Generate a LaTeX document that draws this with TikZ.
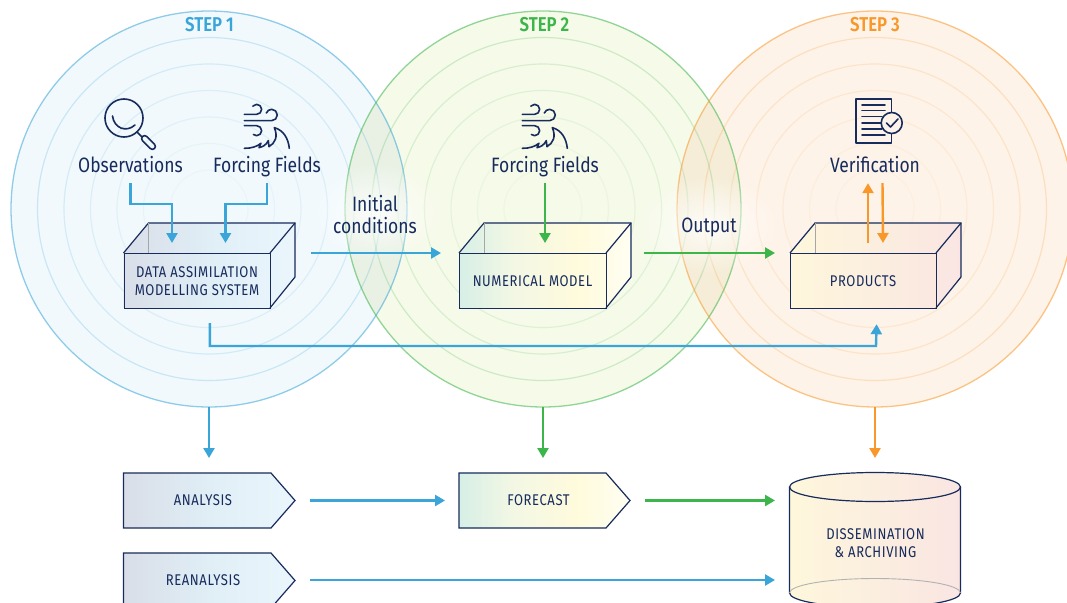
\documentclass[tikz,border=0pt]{standalone}
\usepackage{fontspec}
\setmainfont{Fira Sans}[FakeStretch=0.84]
\newfontfamily\stepfont{Fira Sans SemiBold}[FakeStretch=0.84]
\newfontfamily\boxfont{Fira Sans}[FakeStretch=0.84,LetterSpace=3.8]
\usetikzlibrary{arrows.meta,calc,fadings,shapes.geometric}
\definecolor{navy}{HTML}{172B5C}
\definecolor{cblue}{HTML}{3AA5D8}
\definecolor{cgreen}{HTML}{3CB54A}
\definecolor{corange}{HTML}{F9982A}
\definecolor{gAa}{HTML}{D9DEE8}\definecolor{gAb}{HTML}{E0EEF6}\definecolor{gAc}{HTML}{EAF6FC}
\definecolor{gBa}{HTML}{D6EFE6}\definecolor{gBb}{HTML}{F2F7E4}\definecolor{gBc}{HTML}{FFFBDC}\definecolor{gBd}{HTML}{FFFEF2}
\definecolor{gCa}{HTML}{FFF7DC}\definecolor{gCb}{HTML}{FBEEDF}\definecolor{gCc}{HTML}{FAE5E2}
\definecolor{bgO}{HTML}{FEF3E8}
\pgfdeclarehorizontalshading{gradA}{100bp}{color(0bp)=(gAa);color(25bp)=(gAa);color(50bp)=(gAb);color(75bp)=(gAc);color(100bp)=(gAc)}
\pgfdeclarehorizontalshading{gradB}{100bp}{color(0bp)=(gBa);color(25bp)=(gBa);color(40bp)=(gBb);color(60bp)=(gBc);color(75bp)=(gBd);color(100bp)=(gBd)}
\pgfdeclarehorizontalshading{gradC}{100bp}{color(0bp)=(gCa);color(25bp)=(gCa);color(50bp)=(gCb);color(75bp)=(gCc);color(100bp)=(gCc)}
\tikzfading[name=glowfade,inner color=transparent!15,outer color=transparent!100]
\tikzset{
  lbl/.style={text=navy,font=\fontsize{20.8}{22}\selectfont,align=center,inner sep=0pt},
  baselbl/.style={lbl,anchor=base},
  boxlbl/.style={text=navy,font=\boxfont\fontsize{15.5}{18}\selectfont,align=center,inner sep=0pt},
  steplbl/.style={font=\stepfont\fontsize{20}{22}\selectfont,inner sep=0pt},
  frontface/.style={draw=navy,line width=1.2pt,minimum width=147pt,minimum height=55pt,inner sep=0pt},
  wire/.style={line width=1.2pt,draw=navy},
  icon/.style={line width=1.6pt,draw=navy,line cap=round,line join=round},
  arr/.style={line width=2.4pt,-{Triangle[width=11pt,length=10pt]}},
  arrb/.style={arr,draw=cblue,color=cblue},
  arrg/.style={arr,draw=cgreen,color=cgreen},
  arro/.style={arr,draw=corange,color=corange},
}
\newcommand{\windicon}[2]{%
\begin{scope}[shift={(#1,#2)},x=0.3333pt,y=-0.3333pt,icon]
  \draw (553,103) -- (590,103) arc[start angle=-90,end angle=140,radius=5pt];
  \draw (553,122) -- (635,122) arc[start angle=-90,end angle=160,radius=5.67pt];
  \draw (553,137) -- (590,137) arc[start angle=90,end angle=-130,radius=5pt];
  \draw (553,205) .. controls (575,205) and (590,200) .. (603,190) -- (597,203) .. controls (610,200) and (618,195) .. (625,182) -- (627,200) .. controls (645,190) and (655,170) .. (643,143) .. controls (670,150) and (685,175) .. (688,205);
\end{scope}}
\newcommand{\rings}[3]{%
  \foreach \r/\o in {171.5/.22,145/.16,118.5/.12,92/.09,65.5/.06,39/.04}{\draw[#3,opacity=\o,line width=1.2pt] (#1,#2) circle[radius=\r pt];}
  \draw[#3,opacity=.55,line width=1.3pt] (#1,#2) circle[radius=198pt];}
\begin{document}
\begin{tikzpicture}[x=1pt,y=-1pt]
\useasboundingbox (0,0) rectangle (1067,602);
\clip (0,0) rectangle (1067,602);
% circles
\fill[fill=white] (0,0) rectangle (1067,602);
\fill[fill={rgb,255:red,241;green,249;blue,253}] (209,209) circle[radius=198pt];
\fill[fill={rgb,255:red,246;green,250;blue,233}] (543,209) circle[radius=198pt];
\fill[fill=bgO] (875,209) circle[radius=198pt];
\begin{scope}
 \clip (209,209) circle[radius=198pt];
 \fill[fill={rgb,255:red,232;green,241;blue,228}] (543,209) circle[radius=198pt];
\end{scope}
\begin{scope}
 \clip (543,209) circle[radius=198pt];
 \fill[fill={rgb,255:red,245;green,237;blue,215}] (875,209) circle[radius=198pt];
\end{scope}
\rings{209}{209}{cblue}
\rings{543}{209}{cgreen}
\rings{875}{209}{corange}
% glows behind the two labels
\fill[white,path fading=glowfade] (375,213) ellipse[x radius=68pt,y radius=52pt];
\fill[white,path fading=glowfade] (709,225) ellipse[x radius=72pt,y radius=50pt];
% step titles
\node[steplbl,text=cblue] (s1) at (209.5,24.5) {STEP 1};
\node[steplbl,text=cgreen] (s2) at (544.5,24.5) {STEP 2};
\node[steplbl,text=corange] (s3) at (875,24.5) {STEP 3};
% boxes
\shade[shading=gradA] (123.5,253) -- (148.5,223) -- (295,223) -- (295,277) -- (270,308) -- (123.5,308) -- cycle;
\shade[shading=gradB] (459,253) -- (484,223) -- (631,223) -- (631,277) -- (606,308) -- (459,308) -- cycle;
\shade[shading=gradC] (790,253) -- (815,223) -- (961,223) -- (961,277) -- (936,308) -- (790,308) -- cycle;
\draw[wire] (123.5,253) -- (148.5,223) -- (295,223) -- (295,277) -- (270,308);
\draw[wire] (270,253) -- (295,223);
\draw[line width=1pt,draw=gray!70] (148.5,223) -- (148.5,253);
\draw[wire] (459,253) -- (484,223) -- (631,223) -- (631,277) -- (606,308);
\draw[wire] (606,253) -- (631,223);
\draw[line width=1pt,draw=gray!70] (484,223) -- (484,253);
\draw[wire] (790,253) -- (815,223) -- (961,223) -- (961,277) -- (936,308);
\draw[wire] (936,253) -- (961,223);
\draw[line width=1pt,draw=gray!70] (815,223) -- (815,253);
\node[frontface,minimum width=146.5pt,anchor=north west,align=center] (da) at (123.5,253) {};
\node[boxlbl] (dat) at (197,281) {DATA ASSIMILATION\\MODELLING SYSTEM};
\node[frontface,anchor=north west] (nm) at (459,253) {};
\node[boxlbl] (nmt) at (532.5,281) {NUMERICAL MODEL};
\node[frontface,minimum width=146pt,anchor=north west] (pr) at (790,253) {};
\node[boxlbl] (prt) at (863,281) {PRODUCTS};
% pentagons
\shade[shading=gradA] (123.5,473) -- (271,473) -- (295,500.5) -- (271,528) -- (123.5,528) -- cycle;
\draw[wire] (123.5,473) -- (271,473) -- (295,500.5) -- (271,528) -- (123.5,528) -- cycle;
\node[boxlbl] (an) at (203,500.5) {ANALYSIS};
\shade[shading=gradA] (123.5,553) -- (271,553) -- (295,580.5) -- (271,608) -- (123.5,608) -- cycle;
\draw[wire] (123.5,553) -- (271,553) -- (295,580.5) -- (271,608) -- (123.5,608) -- cycle;
\node[boxlbl] (re) at (203,580.5) {REANALYSIS};
\shade[shading=gradB] (459,473) -- (606,473) -- (630,500.5) -- (606,528) -- (459,528) -- cycle;
\draw[wire] (459,473) -- (606,473) -- (630,500.5) -- (606,528) -- (459,528) -- cycle;
\node[boxlbl] (fc) at (538.5,500.5) {FORECAST};
% cylinder
\shade[shading=gradC] (789.5,487) arc[start angle=180,end angle=0,x radius=85.5pt,y radius=14.5pt] -- (960.5,593) arc[start angle=0,end angle=-180,x radius=85.5pt,y radius=14.5pt] -- cycle;
\draw[wire] (789.5,487) -- (789.5,593) arc[start angle=180,end angle=360,x radius=85.5pt,y radius=14.5pt] -- (960.5,487);
\draw[wire] (875,487) ellipse[x radius=85.5pt,y radius=14.5pt];
\draw[line width=.9pt,draw=gray!60] (789.5,593) arc[start angle=180,end angle=0,x radius=85.5pt,y radius=14.5pt];
\node[boxlbl] (dis) at (875.5,543) {DISSEMINATION\\\& ARCHIVING};
% labels
\node[baselbl] (obs) at (130.5,172.6) {Observations};
\node[baselbl] (ff1) at (267,172.6) {Forcing Fields};
\node[baselbl] (ff2) at (545,172.6) {Forcing Fields};
\node[baselbl] (ver) at (875,172.6) {Verification};
\node[lbl] (ic) at (375,214.5) {Initial\\conditions};
\node[baselbl] (out) at (709,232) {Output};
% icons
\begin{scope}[icon]
 \draw (124,118) circle[radius=19pt];
 \draw (112.5,116) .. controls (114,128) and (126,133) .. (135,125);
 \draw (137,132) -- (142,137);
 \draw[rounded corners=3pt,rotate around={-45:(148.5,142.5)}] (140,139.5) rectangle (157,145.5);
\end{scope}
\windicon{60}{80}
\windicon{338}{80}
\begin{scope}[icon]
 \draw (891.5,134) -- (891.5,143) -- (855.7,143) -- (855.7,98.7) -- (891.5,98.7) -- (891.5,112);
 \foreach \yy/\xe in {104.7/885,110.5/885,116.5/882,123/881,129/882,134.7/885} {\draw (862,\yy) -- (\xe,\yy);}
 \draw[fill=bgO] (891.7,123) circle[radius=10.5pt];
 \draw (886.5,123) -- (890.5,127) -- (898,119);
\end{scope}
% connectors
\draw[arrb] ([yshift=-10.6pt]obs.base) |- (172,204) -- (172,243);
\draw[arrb] ([yshift=-10.6pt]ff1.base) |- (225.5,204) -- (225.5,243);
\draw[arrg] ([yshift=-10.6pt]ff2.base) -- ([xshift=86pt,yshift=10pt]nm.north west);
\draw[arro] ([xshift=78pt,yshift=10pt]pr.north west) -- ([xshift=-7pt,yshift=-10.6pt]ver.base);
\draw[arro] ([xshift=7.5pt,yshift=-10.6pt]ver.base) -- ([xshift=93pt,yshift=10pt]pr.north west);
\draw[arrb] ([xshift=40pt]da.north east) -- ([xshift=-18pt]nm.north west);
\draw[arrg] ([xshift=37pt]nm.north east) -- ([xshift=-15pt]pr.north west);
\draw[arrb] ([xshift=12.5pt,yshift=-14pt]da.south) |- (876,346) -- ([xshift=13pt,yshift=-15pt]pr.south);
\coordinate (c1) at (209,407);
\coordinate (c2) at (543,407);
\coordinate (c3) at (875,407);
\coordinate (an1) at (209,458);
\coordinate (fc1) at (543,458);
\coordinate (dis1) at (875,458);
\draw[arrb] (c1) -- (an1);
\draw[arrg] (c2) -- (fc1);
\draw[arro] (c3) -- (dis1);
\draw[arrb] (310,500.5) -- (445,500.5);
\draw[arrg] (645,500.5) -- (775,500.5);
\draw[arrb] (310,580) -- (775,580);
\end{tikzpicture}
\end{document}
